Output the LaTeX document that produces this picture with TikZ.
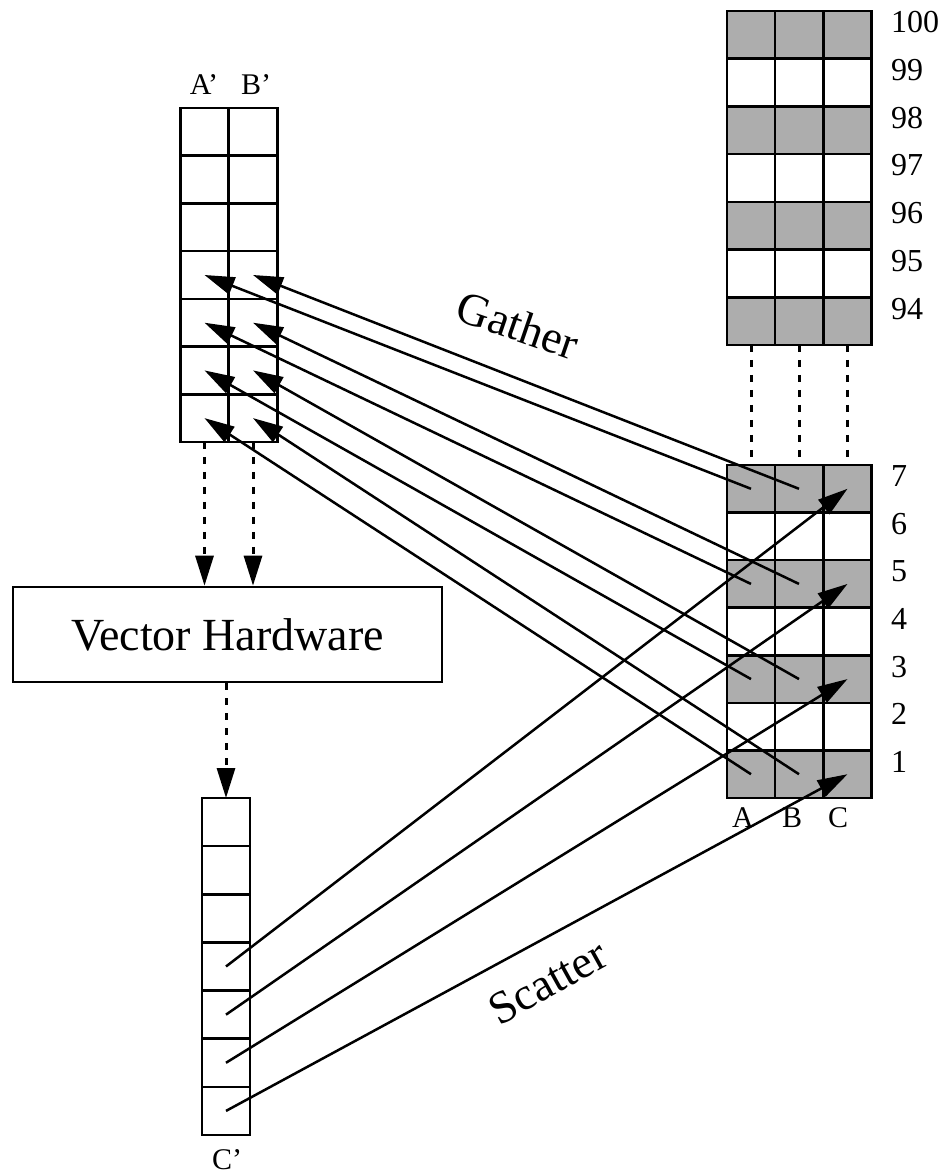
\documentclass[tikz,border=0pt]{standalone}
\usepackage{fontspec}
\setmainfont{Liberation Serif}
\usetikzlibrary{arrows.meta,calc}
\begin{document}
\begin{tikzpicture}[x=1pt,y=-1pt,
  lcell/.style={draw,line width=2.6pt,minimum width=48.5pt,minimum height=47.7pt,inner sep=0pt,outer sep=0pt},
  rcell/.style={draw,line width=2.6pt,minimum width=48.3pt,minimum height=47.6pt,inner sep=0pt,outer sep=0pt},
  ccell/.style={draw,line width=2.6pt,minimum width=48pt,minimum height=48.1pt,inner sep=0pt,outer sep=0pt},
  shade/.style={fill=black!32},
  conn/.style={line width=2.5pt},
  head/.style={-{Triangle[length=30pt,width=18pt]}},
  dashconn/.style={line width=3pt,dash pattern=on 7pt off 8pt,-{Triangle[length=30pt,width=18pt]}},
  dotconn/.style={line width=3pt,dash pattern=on 7pt off 8pt},
  big/.style={font=\fontsize{46}{55}\selectfont},
  num/.style={font=\fontsize{32}{38}\selectfont,anchor=base west,inner sep=0pt},
  let/.style={font=\fontsize{30}{36}\selectfont,inner sep=0pt}
]
\useasboundingbox (0,0) rectangle (946,1176);

% A'B' array
\foreach \i in {1,...,7} {
  \node[lcell] (ap\i) at (204.5,{108+(\i-0.5)*47.71}) {};
  \node[lcell] (bp\i) at (253,{108+(\i-0.5)*47.71}) {};
}
\node[let] (lap) at (204,85) {A’};
\node[let] (lbp) at (256,85) {B’};

% right bottom array, rows 7 (top) .. 1 (bottom)
\foreach \k in {7,...,1} {
  \pgfmathtruncatemacro{\odd}{mod(\k,2)}
  \ifnum\odd=1
    \node[rcell,shade] (ra\k) at (751,{465+(7-\k+0.5)*47.57}) {};
    \node[rcell,shade] (rb\k) at (799,{465+(7-\k+0.5)*47.57}) {};
    \node[rcell,shade] (rc\k) at (847.5,{465+(7-\k+0.5)*47.57}) {};
  \else
    \node[rcell] (ra\k) at (751,{465+(7-\k+0.5)*47.57}) {};
    \node[rcell] (rb\k) at (799,{465+(7-\k+0.5)*47.57}) {};
    \node[rcell] (rc\k) at (847.5,{465+(7-\k+0.5)*47.57}) {};
  \fi
  \node[num] (rl\k) at (891,{465+(7-\k+0.5)*47.57-2}) {\k};
}
\node[let] (la) at (743,818) {A};
\node[let] (lb) at (792,818) {B};
\node[let] (lc) at (838,818) {C};

% right top array, rows 100 (top) .. 94
\foreach \m in {100,...,94} {
  \pgfmathtruncatemacro{\odd}{mod(\m,2)}
  \ifnum\odd=0
    \node[lcell,shade,minimum width=48.3pt] (ta\m) at (751,{11+(100-\m+0.5)*47.71}) {};
    \node[lcell,shade,minimum width=48.3pt] (tb\m) at (799,{11+(100-\m+0.5)*47.71}) {};
    \node[lcell,shade,minimum width=48.3pt] (tc\m) at (847.5,{11+(100-\m+0.5)*47.71}) {};
  \else
    \node[lcell,minimum width=48.3pt] (ta\m) at (751,{11+(100-\m+0.5)*47.71}) {};
    \node[lcell,minimum width=48.3pt] (tb\m) at (799,{11+(100-\m+0.5)*47.71}) {};
    \node[lcell,minimum width=48.3pt] (tc\m) at (847.5,{11+(100-\m+0.5)*47.71}) {};
  \fi
  \node[num] (tl\m) at (891,{11+(100-\m+0.5)*47.71-2}) {\m};
}

% C' array
\foreach \j in {1,...,7} {
  \node[ccell] (cp\j) at (226,{798+(\j-0.5)*48.14}) {};
}
\node[let] (lcp) at (227,1160) {C’};

% Vector hardware
\node[draw,line width=2.6pt,minimum width=429pt,minimum height=95pt,inner sep=0pt,big] (vh) at (227.5,634.5) {Vector Hardware};

% dashed connectors
\draw[dashconn] (ap7.south) -- (ap7.south |- vh.north);
\draw[dashconn] (bp7.south) -- (bp7.south |- vh.north);
\draw[dashconn] (cp1.north |- vh.south) -- (cp1.north);
\foreach \c in {a,b,c} {
  \draw[dotconn] (t\c94.south) -- (r\c7.north);
}

% gather
\foreach \p/\k in {4/7,5/5,6/3,7/1} {
  \draw[conn,head] (ra\k.center) -- (ap\p.center);
  \draw[conn,head] (rb\k.center) -- (bp\p.center);
}
% scatter
\foreach \p/\k in {4/7,5/5,6/3,7/1} {
  \draw[conn,head] (cp\p.center) -- (rc\k.center);
}

\node[big,rotate=-19] (gather) at (518,325) {Gather};
\node[big,rotate=29] (scatter) at (548,982) {Scatter};
\end{tikzpicture}
\end{document}
